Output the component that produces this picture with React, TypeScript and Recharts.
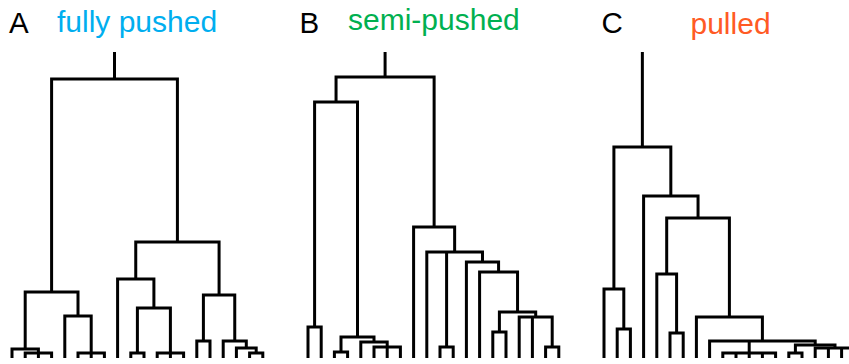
import React from 'react';
import { LineChart, Line, XAxis, YAxis } from 'recharts';

// every tree has 20 leaf slots, left to right
const leafCount = 20;
// height the root stem reaches (same for all three trees)
const stemTop = 306;

// merges: node k gets id leafCount + k, children are leaf slots or earlier node ids
const mergesA = [
  [1, 2, 3], [0, 20], [5, 6, 7], [4, 22], [21, 23],
  [9, 10], [11, 12, 13], [25, 26], [8, 27],
  [14, 15], [18, 19], [17, 30], [16, 31], [29, 32],
  [28, 33], [24, 34],
];
const heightsA = [5, 9, 5, 42, 66, 5, 5, 50, 79, 17, 5, 10, 17, 63, 116, 279];

const mergesB = [
  [0, 1], [2, 3], [5, 6, 7], [4, 22], [21, 23], [20, 24],
  [10, 11], [14, 15], [18, 19], [16, 17, 28], [27, 29],
  [13, 30], [12, 31], [9, 26, 32], [8, 33], [25, 34],
];
const heightsB = [31, 6, 11, 16, 21, 256, 11, 26, 11, 41, 46, 86, 96, 106, 131, 281];

const mergesC = [
  [1, 2], [0, 20], [5, 6], [4, 22],
  [9, 10, 11, 12, 13], [14, 15], [16, 17, 18, 19], [25, 26],
  [8, 24, 27], [7, 28], [23, 29], [3, 30], [21, 31],
];
const heightsC = [29, 69, 25, 84, 5, 5, 10, 13, 17, 41, 140, 162, 211];

const titles = [
  { letter: 'A', label: 'fully pushed', color: '#00AEEF' },
  { letter: 'B', label: 'semi-pushed', color: '#00B050' },
  { letter: 'C', label: 'pulled', color: '#FF5A24' },
];

type Pt = { x: number; y: number };

// turn the linkage into polylines: one "n" shape per merge, extra legs for polytomies
function buildSegments(merges: number[][], heights: number[]): Pt[][] {
  const xs: number[] = [];
  const hs: number[] = [];
  for (let i = 0; i < leafCount; i++) {
    xs[i] = i;
    hs[i] = 0;
  }
  const segs: Pt[][] = [];
  merges.forEach((kids, k) => {
    const id = leafCount + k;
    const h = heights[k];
    const sorted = [...kids].sort((a, b) => xs[a] - xs[b]);
    const first = sorted[0];
    const last = sorted[sorted.length - 1];
    xs[id] = (xs[first] + xs[last]) / 2;
    hs[id] = h;
    segs.push([
      { x: xs[first], y: hs[first] },
      { x: xs[first], y: h },
      { x: xs[last], y: h },
      { x: xs[last], y: hs[last] },
    ]);
    sorted.slice(1, -1).forEach((c) => {
      segs.push([
        { x: xs[c], y: h },
        { x: xs[c], y: hs[c] },
      ]);
    });
  });
  const root = leafCount + merges.length - 1;
  segs.push([
    { x: xs[root], y: hs[root] },
    { x: xs[root], y: stemTop },
  ]);
  return segs;
}

const Tree = ({ merges, heights, left }: { merges: number[][]; heights: number[]; left: number }) => {
  const segs = buildSegments(merges, heights);
  return (
    <div style={{ position: 'absolute', left, top: 0 }}>
      <LineChart width={280} height={364} margin={{ top: 52, right: 17.2, bottom: 6, left: 12 }}>
        <XAxis type="number" dataKey="x" domain={[0, leafCount - 1]} hide />
        <YAxis type="number" dataKey="y" domain={[0, stemTop]} hide />
        {segs.map((s, i) => (
          <Line
            key={i}
            data={s}
            dataKey="y"
            type="linear"
            stroke="#000"
            strokeWidth={3}
            dot={false}
            activeDot={false}
            isAnimationActive={false}
          />
        ))}
      </LineChart>
    </div>
  );
};

const App = () => {
  const font = '"Liberation Sans", Arial, Helvetica, sans-serif';
  return (
    <div style={{ position: 'relative', width: 849, height: 364, overflow: 'hidden', background: '#fff' }}>
      <style>{'body { margin: 0; }'}</style>
      <Tree merges={mergesA} heights={heightsA} left={0} />
      <Tree merges={mergesB} heights={heightsB} left={296} />
      <Tree merges={mergesC} heights={heightsC} left={592} />
      <svg width={849} height={364} style={{ position: 'absolute', left: 0, top: 0, pointerEvents: 'none' }}>
        <text x={9} y={33} fontFamily={font} fontSize={29.5} fill="#000">{titles[0].letter}</text>
        <text x={57} y={31.5} fontFamily={font} fontSize={30} fill={titles[0].color}>{titles[0].label}</text>
        <text x={299.5} y={32.5} fontFamily={font} fontSize={29.5} fill="#000">{titles[1].letter}</text>
        <text x={348} y={30} fontFamily={font} fontSize={30} fill={titles[1].color}>{titles[1].label}</text>
        <text x={601.5} y={32.5} fontFamily={font} fontSize={29.5} fill="#000">{titles[2].letter}</text>
        <text x={690.5} y={34} fontFamily={font} fontSize={30} fill={titles[2].color}>{titles[2].label}</text>
      </svg>
    </div>
  );
};

export default App;
